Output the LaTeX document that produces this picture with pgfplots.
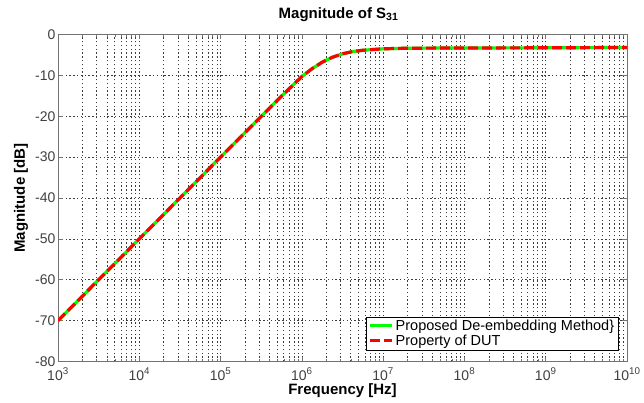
\documentclass[border=0pt]{standalone}
\usepackage{pgfplots}
\pgfplotsset{compat=1.18}
\usepackage{fontspec}
\setmainfont{Liberation Sans}
\definecolor{mgreen}{RGB}{0,255,0}
\definecolor{mred}{RGB}{255,0,0}
\definecolor{gridc}{RGB}{60,60,60}
\begin{document}
\begin{tikzpicture}[x=1pt,y=1pt]
\useasboundingbox (-58,-41.4) rectangle (586,361.6);
\begin{axis}[
  at={(0,0)}, anchor=south west,
  scale only axis, width=569pt, height=327.2pt,
  xmode=log, xmin=1e3, xmax=1e10,
  ymin=-80, ymax=0,
  xtick={1e3,1e4,1e5,1e6,1e7,1e8,1e9,1e10},
  xticklabels={10\textsuperscript{3},10\textsuperscript{4},10\textsuperscript{5},10\textsuperscript{6},10\textsuperscript{7},10\textsuperscript{8},10\textsuperscript{9},10\textsuperscript{10}},
  ytick={-80,-70,-60,-50,-40,-30,-20,-10,0},
  yticklabels={-80,-70,-60,-50,-40,-30,-20,-10,0},
  tick label style={font=\fontsize{14}{16}\selectfont, text=black!75},
  xticklabel style={yshift=-3pt},
  yticklabel style={xshift=1pt},
  axis line style={draw=black!55, line width=0.9pt},
  tick style={draw=black!55, line width=0.6pt},
  tick align=inside,
  major tick length=5pt, minor tick length=3pt,
  xmajorgrids, xminorgrids, ymajorgrids,
  major grid style={draw=gridc, line width=0.7pt, dash pattern=on 1.4pt off 2.4pt},
  minor grid style={draw=gridc, line width=0.7pt, dash pattern=on 1.4pt off 2.4pt},
  title={\textbf{Magnitude of S\textsubscript{31}}},
  title style={font=\fontsize{15}{17}\selectfont, at={(axis description cs:0.493,1.043)}, anchor=center},
  xlabel={\textbf{Frequency [Hz]}},
  xlabel style={font=\fontsize{15}{17}\selectfont, at={(axis description cs:0.5,-0.09)}, anchor=center},
  ylabel={\textbf{Magnitude [dB]}},
  ylabel style={font=\fontsize{15}{17}\selectfont, at={(axis description cs:-0.065,0.5)}, anchor=center, rotate=0},
  legend style={at={(axis description cs:0.985,0.035)}, anchor=south east,
    font=\fontsize{14.5}{16}\selectfont, draw=black, line width=0.6pt,
    inner xsep=2pt, inner ysep=1pt, row sep=-1pt, fill=white},
  legend cell align=left,
  legend image code/.code={\draw[#1] (0pt,0pt) -- (22pt,0pt);},
]
\addplot[color=mgreen, line width=3.2pt] coordinates {
(1e3,-70.0) (3.162e3,-60.0) (1e4,-50.0) (3.162e4,-40.0) (1e5,-30.0)
(3.162e5,-20.05) (5.623e5,-15.1) (1e6,-10.3) (1.334e6,-8.4) (1.778e6,-6.8)
(2.371e6,-5.6) (3.162e6,-4.75) (4.217e6,-4.2) (5.623e6,-3.88) (1e7,-3.52)
(1.778e7,-3.4) (3.162e7,-3.36) (1e8,-3.32) (1e9,-3.28) (1e10,-3.2)
};
\addlegendentry{Proposed De-embedding Method\}}
\addplot[color=mred, line width=3.2pt, dash pattern=on 10pt off 4pt] coordinates {
(1e3,-70.0) (3.162e3,-60.0) (1e4,-50.0) (3.162e4,-40.0) (1e5,-30.0)
(3.162e5,-20.05) (5.623e5,-15.1) (1e6,-10.3) (1.334e6,-8.4) (1.778e6,-6.8)
(2.371e6,-5.6) (3.162e6,-4.75) (4.217e6,-4.2) (5.623e6,-3.88) (1e7,-3.52)
(1.778e7,-3.4) (3.162e7,-3.36) (1e8,-3.32) (1e9,-3.28) (1e10,-3.2)
};
\addlegendentry{Property of DUT}
\end{axis}
\end{tikzpicture}
\end{document}
